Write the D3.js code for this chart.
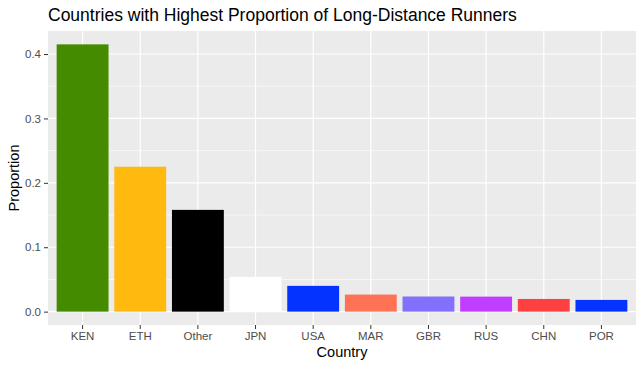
<!DOCTYPE html>
<html>
<head>
<meta charset="utf-8">
<script src="https://cdn.jsdelivr.net/npm/d3@7"></script>
<style>
  body { margin: 0; background: #fff; }
  svg { display: block; font-family: "Liberation Sans", Arial, sans-serif; }
</style>
</head>
<body>
<svg id="chart"></svg>
<script>
// data
const countries = ['KEN', 'ETH', 'Other', 'JPN', 'USA', 'MAR', 'GBR', 'RUS', 'CHN', 'POR'];
const proportions = [0.415, 0.225, 0.158, 0.054, 0.040, 0.0265, 0.0235, 0.0233, 0.0197, 0.0182];
const barColors = ['#458B00', '#FFB90F', '#000000', '#FFFFFF', '#0433FF', '#FF7256', '#8470FF', '#BF3EFF', '#FF4040', '#0433FF'];
const yTicks = [0, 0.1, 0.2, 0.3, 0.4];
const yMinor = [0.05, 0.15, 0.25, 0.35];

const width = 643, height = 367;
const margin = {top: 31, right: 7, bottom: 42, left: 48};

const svg = d3.select('#chart').attr('width', width).attr('height', height);

const maxVal = d3.max(proportions);
const pad = maxVal * 0.05;

// ggplot-like discrete axis: 0.6 expansion each side, bars 0.9 wide
let x = d3.scaleBand()
  .domain(countries)
  .range([margin.left, width - margin.right])
  .paddingInner(0.1)
  .paddingOuter(0.15);

let y = d3.scaleLinear()
  .domain([-pad, maxVal + pad])
  .range([height - margin.bottom, margin.top]);

// panel background
svg.append('rect')
  .attr('x', margin.left)
  .attr('y', margin.top)
  .attr('width', width - margin.left - margin.right)
  .attr('height', height - margin.top - margin.bottom)
  .style('fill', '#EBEBEB');

// minor grid
svg.selectAll('line.minor')
  .data(yMinor)
  .enter()
  .append('line')
  .attr('class', 'minor')
  .attr('x1', margin.left).attr('x2', width - margin.right)
  .attr('y1', d => y(d)).attr('y2', d => y(d))
  .style('stroke', '#fff').style('stroke-width', 0.6);

// major grid
svg.selectAll('line.hmajor')
  .data(yTicks)
  .enter()
  .append('line')
  .attr('class', 'hmajor')
  .attr('x1', margin.left).attr('x2', width - margin.right)
  .attr('y1', d => y(d)).attr('y2', d => y(d))
  .style('stroke', '#fff').style('stroke-width', 1.2);

svg.selectAll('line.vmajor')
  .data(countries)
  .enter()
  .append('line')
  .attr('class', 'vmajor')
  .attr('x1', d => x(d) + x.bandwidth() / 2).attr('x2', d => x(d) + x.bandwidth() / 2)
  .attr('y1', margin.top).attr('y2', height - margin.bottom)
  .style('stroke', '#fff').style('stroke-width', 1.2);

// bars
svg.selectAll('rect.bar')
  .data(countries)
  .enter()
  .append('rect')
  .attr('class', 'bar')
  .attr('x', d => x(d))
  .attr('width', x.bandwidth())
  .attr('y', (d, i) => y(proportions[i]))
  .attr('height', (d, i) => y(0) - y(proportions[i]))
  .style('fill', (d, i) => barColors[i]);

// axes
let xAxis = d3.axisBottom(x).tickSize(4).tickPadding(3);
let gx = svg.append('g')
  .attr('transform', `translate(0, ${height - margin.bottom})`)
  .call(xAxis);

let yAxis = d3.axisLeft(y).tickValues(yTicks).tickFormat(d3.format('.1f')).tickSize(4).tickPadding(3);
let gy = svg.append('g')
  .attr('transform', `translate(${margin.left}, 0)`)
  .call(yAxis);

[gx, gy].forEach(g => {
  g.select('.domain').remove();
  g.selectAll('.tick line').style('stroke', '#333333').style('stroke-width', 1);
  g.selectAll('.tick text')
    .style('fill', '#4D4D4D')
    .style('font-size', '11.5px')
    .style('font-family', '"Liberation Sans", Arial, sans-serif');
});

// titles
svg.append('text')
  .attr('x', margin.left)
  .attr('y', 21)
  .style('font-size', '17.5px')
  .style('fill', '#000')
  .text('Countries with Highest Proportion of Long-Distance Runners');

svg.append('text')
  .attr('x', (margin.left + width - margin.right) / 2)
  .attr('y', 357)
  .style('text-anchor', 'middle')
  .style('font-size', '14.5px')
  .style('fill', '#000')
  .text('Country');

svg.append('text')
  .attr('transform', `translate(19, ${(margin.top + height - margin.bottom) / 2}) rotate(-90)`)
  .style('text-anchor', 'middle')
  .style('font-size', '14.5px')
  .style('fill', '#000')
  .text('Proportion');
</script>
</body>
</html>
